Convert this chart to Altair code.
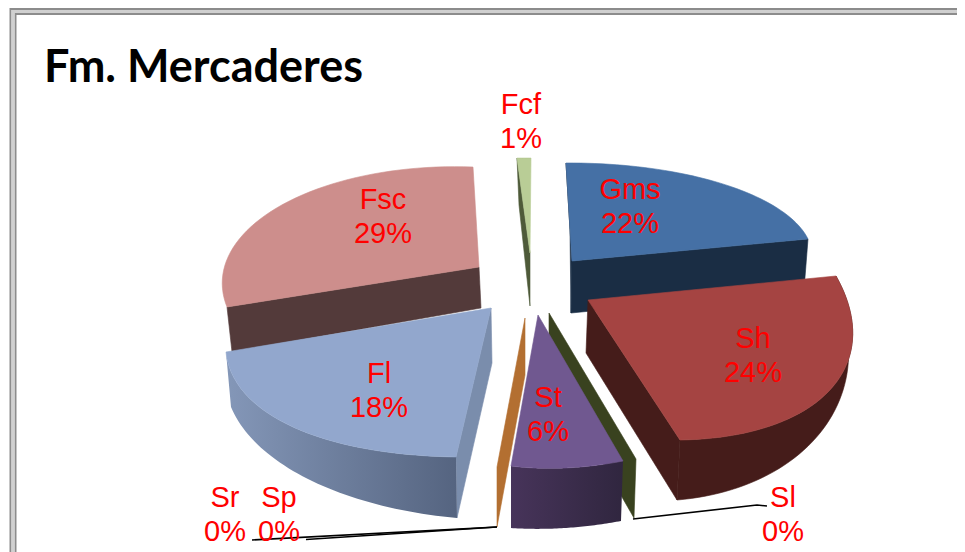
import altair as alt
import numpy as np
import pandas as pd

title_text = "Fm. Mercaderes"
categories = ["Gms", "Sh", "Sl", "St", "Sp", "Sr", "Fl", "Fsc", "Fcf"]
values = [22, 24, 0, 6, 0, 0, 18, 29, 1]

# label anchor in page pixels: centre x, first baseline
label_x = [630, 753, 783, 548, 279, 225, 379, 383, 521]
label_y = [199, 348, 507, 407, 507, 507, 383, 209, 114]
LINE_GAP = 34

# Where each exploded slice of the 3D pie sits on the page (perspective fit).
LAYOUT = {
    "Gms": dict(a=(572, 261), ab=(571, 313), t=[(566, 163), (723, 184), (808, 239)], b=[(570, 230), None, (804, 290)],
                top="#4570A5", cuts=[(0, "#1A2D44"), (1, "#1A2D44")]),
    "Sh": dict(a=(588, 300), ab=(586, 353), t=[(836, 276), (829, 391), (680, 440)], b=[(844, 318), (814, 440), (677, 500)],
               top="#A54442", side="#451C1A", cuts=[(1, "#451C1A")]),
    "Sl": dict(a=(549, 313), ab=(549, 370), t=[(636, 459)] * 3, b=[(634, 518), None, (634, 518)],
               cuts=[(0, "#39421F")]),
    "St": dict(a=(538, 315), ab=(538, 370), t=[(623, 461), (565, 468), (511, 466)], b=[(621, 521), (565, 528), (511, 528)],
               top="#705890", side=("#47345A", "#30263F"), cuts=[]),
    "Sp": dict(a=(525, 318), ab=(525, 375), t=[(497, 467)] * 3, b=[(497, 527), None, (497, 527)],
               cuts=[(0, "#B36F31")]),
    "Fl": dict(a=(491, 308), ab=(492, 363), t=[(456, 457), (293, 427), (226, 352)], b=[(457, 518), (310, 480), (231, 407)],
               top="#92A7CD", side=("#8497B8", "#556480"), cuts=[(0, "#7A8DAC")]),
    "Fsc": dict(a=(479, 267), ab=(481, 308), t=[(227, 307), (280, 206), (473, 167)], b=[(232, 352), None, (470, 200)],
                top="#CD8E8C", cuts=[(0, "#533A3A")]),
    "Fcf": dict(a=(530, 253), ab=(530, 306), t=[(517, 158), (524, 158), (531, 158)], b=[(519, 205), None, (530, 200)],
                top="#B9CD96", cuts=[(0, "#4E5A39")]),
}
DRAW_ORDER = ["Fsc", "Fcf", "Gms", "Sl", "Sh", "Sp", "St", "Fl"]

frame_lines = [
    ([10.5, 10.5, 965], [552, 9, 9], "#8C8C8C", 2),
    ([15.5, 15.5, 965], [552, 14, 14], "#8C8C8C", 2),
    ([13, 13, 965], [552, 11.5, 11.5], "#D0D0D0", 3),
]
leaders = [
    ([252, 497], [540, 527]),
    ([306, 497], [539.5, 527]),
    ([633, 757, 767], [519, 505, 506]),
]

W, H = 949, 544
xs = alt.Scale(domain=[8, 957], range=[0, W])
ys = alt.Scale(domain=[8, 552], range=[0, H])

# start / end angle of every slice from the values, clockwise from the top
cum = np.cumsum([0] + values) * 3.6
angles = {c: (np.radians(cum[i]), np.radians(cum[i + 1])) for i, c in enumerate(categories)}


def arc(pts, t0, t1, n=48):
    """Ellipse through three anchors placed at the slice's start, middle and end angles."""
    ts = np.array([t0, (t0 + t1) / 2, t1])
    if t1 <= t0:
        return [pts[0]]
    A = np.column_stack([np.ones(3), np.sin(ts), np.cos(ts)])
    P = np.array(pts, dtype=float)
    cx = np.linalg.solve(A, P[:, 0])
    cy = np.linalg.solve(A, P[:, 1])
    tt = np.linspace(t0, t1, n)
    B = np.column_stack([np.ones(n), np.sin(tt), np.cos(tt)])
    return [tuple(r) for r in np.column_stack([B @ cx, B @ cy])]


def poly(points, fill):
    pts = list(points) + [points[0]]
    df = pd.DataFrame({"x": [p[0] for p in pts], "y": [p[1] for p in pts], "i": range(len(pts))})
    if isinstance(fill, tuple):
        paint = alt.Gradient(gradient="linear", x1=0, x2=1, y1=0, y2=0,
                             stops=[alt.GradientStop(color=fill[0], offset=0), alt.GradientStop(color=fill[1], offset=1)])
        mark = alt.Chart(df).mark_line(fill=paint, strokeWidth=0, interpolate="linear", clip=True)
    else:
        mark = alt.Chart(df).mark_line(fill=fill, stroke=fill, strokeWidth=0.6, interpolate="linear", clip=True)
    return mark.encode(
        x=alt.X("x:Q", scale=xs, axis=None),
        y=alt.Y("y:Q", scale=ys, axis=None),
        order=alt.Order("i:Q"),
    )


def path(px, py, color, width):
    df = pd.DataFrame({"x": px, "y": py, "i": range(len(px))})
    return alt.Chart(df).mark_line(color=color, strokeWidth=width).encode(
        x=alt.X("x:Q", scale=xs, axis=None),
        y=alt.Y("y:Q", scale=ys, axis=None),
        order=alt.Order("i:Q"),
    )


layers = [path(px, py, c, w) for px, py, c, w in frame_lines]

for name in DRAW_ORDER:
    s = LAYOUT[name]
    t0, t1 = angles[name]
    for end, colour in s["cuts"]:
        idx = 2 if end else 0
        layers.append(poly([s["a"], s["t"][idx], s["b"][idx], s["ab"]], colour))
    if "side" in s:
        top_arc = arc(s["t"], t0, t1)
        bot_arc = arc(s["b"], t0, t1)
        layers.append(poly(top_arc + bot_arc[::-1], s["side"]))
    if "top" in s:
        layers.append(poly([s["a"]] + arc(s["t"], t0, t1), s["top"]))

for px, py in leaders:
    layers.append(path(px, py, "#000000", 1.6))

labels = pd.DataFrame({
    "text": categories + [f"{v}%" for v in values],
    "x": label_x + label_x,
    "y": label_y + [v + LINE_GAP for v in label_y],
})
layers.append(
    alt.Chart(labels).mark_text(font="Liberation Sans", fontSize=29, color="#FF0000", align="center", baseline="alphabetic").encode(
        x=alt.X("x:Q", scale=xs, axis=None),
        y=alt.Y("y:Q", scale=ys, axis=None),
        text="text:N",
    )
)
title_df = pd.DataFrame({"text": [title_text], "x": [44], "y": [82]})
layers.append(
    alt.Chart(title_df).mark_text(font="Lato", fontSize=45, fontWeight="bold", color="#000000", align="left", baseline="alphabetic").encode(
        x=alt.X("x:Q", scale=xs, axis=None),
        y=alt.Y("y:Q", scale=ys, axis=None),
        text="text:N",
    )
)

chart = alt.layer(*layers).properties(
    width=W, height=H, padding=0, autosize=alt.AutoSizeParams(type="none"), background="#FFFFFF"
).configure_view(stroke=None)

chart.save("out.html", embed_options={"renderer": "svg", "actions": False})
